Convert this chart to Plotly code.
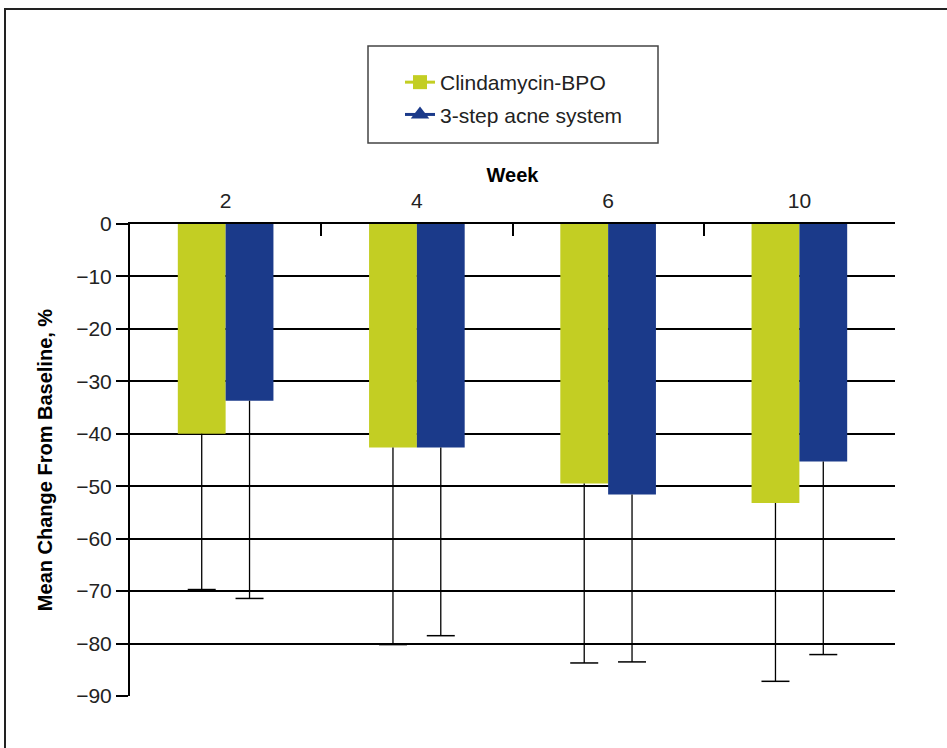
import plotly.graph_objects as go

weeks = ["2", "4", "6", "10"]
clinda_mean = [-40.0, -42.6, -49.5, -53.2]
clinda_sd = [29.7, 37.6, 34.2, 34.0]
acne_mean = [-33.7, -42.6, -51.6, -45.3]
acne_sd = [37.7, 35.9, 31.9, 36.8]
y_ticks = [0, -10, -20, -30, -40, -50, -60, -70, -80, -90]

GREEN = "#C3CE23"
BLUE = "#1B3A8A"
FONT = "Liberation Sans, Arial, Helvetica, sans-serif"

idx = list(range(len(weeks)))
bw = 0.25

fig = go.Figure()
fig.add_trace(go.Bar(x=idx, y=clinda_mean, width=bw, offset=-bw, marker=dict(color=GREEN, line=dict(width=0)),
                     showlegend=False, hoverinfo="skip"))
fig.add_trace(go.Bar(x=idx, y=acne_mean, width=bw, offset=0, marker=dict(color=BLUE, line=dict(width=0)),
                     showlegend=False, hoverinfo="skip"))

# error whiskers (downward only) with caps at the lower end
for means, sds, shift in [(clinda_mean, clinda_sd, -bw / 2), (acne_mean, acne_sd, bw / 2)]:
    lows = [m - s for m, s in zip(means, sds)]
    fig.add_trace(go.Scatter(
        x=[i + shift for i in idx], y=lows, mode="markers",
        marker=dict(symbol="line-ew", size=20, color="black", line=dict(width=1.5, color="black")),
        error_y=dict(type="data", symmetric=False, array=sds, arrayminus=[0] * len(sds),
                     width=0, thickness=1.3, color="black"),
        showlegend=False, hoverinfo="skip", cliponaxis=False))

# legend entries
fig.add_trace(go.Scatter(x=[None], y=[None], mode="lines+markers", name="Clindamycin-BPO",
                         line=dict(color=GREEN, width=3), marker=dict(symbol="square", size=14, color=GREEN),
                         legendgroup="a"))
fig.add_trace(go.Scatter(x=[None], y=[None], mode="lines+markers", name="3-step acne system",
                         line=dict(color=BLUE, width=3), marker=dict(symbol="triangle-up", size=16, color=BLUE),
                         legendgroup="b"))
# trace to activate the boundary-tick axis
fig.add_trace(go.Scatter(x=[0], y=[None], xaxis="x2", showlegend=False, hoverinfo="skip"))

W, H = 947, 748
L, R, T, B = 130, 52, 224, 52
pw, ph = W - L - R, H - T - B

def px(x):
    return (x - L) / pw

def py(y):
    return (H - B - y) / ph

fig.update_layout(
    width=W, height=H,
    margin=dict(l=L, r=R, t=T, b=B),
    paper_bgcolor="white", plot_bgcolor="white",
    font=dict(family=FONT, size=21, color="#222"),
    barmode="overlay",
    xaxis=dict(range=[-0.5, 3.5], side="top", tickvals=idx, ticktext=weeks, ticks="outside", ticklen=6,
               tickcolor="rgba(0,0,0,0)",
               showline=True, linewidth=2, linecolor="black", showgrid=False, zeroline=False,
               tickfont=dict(size=21, color="#222"),
               title=dict(text="<b>Week</b>", font=dict(size=20, color="black"), standoff=1)),
    xaxis2=dict(range=[-0.5, 3.5], overlaying="x", side="top",
                tickvals=[i - 0.5 for i in idx] + [len(idx) - 0.5],
                ticks="inside", ticklen=12, tickwidth=2, tickcolor="black",
                showticklabels=False, showline=False, showgrid=False, zeroline=False),
    yaxis=dict(range=[-90, 0], tickvals=y_ticks, ticks="outside", ticklen=12, tickwidth=2, tickcolor="black",
               showline=True, linewidth=2, linecolor="black", showgrid=True, gridcolor="black", gridwidth=2,
               zeroline=False, tickfont=dict(size=21, color="#222"),
               title=dict(text="<b>Mean Change From Baseline, %</b>", font=dict(size=20, color="black"),
                          standoff=18)),
    legend=dict(x=px(400), y=py(62), xanchor="left", yanchor="top", bgcolor="rgba(0,0,0,0)",
                borderwidth=0, font=dict(size=21, color="#222"), tracegroupgap=2, traceorder="grouped"),
    shapes=[
        dict(type="rect", xref="paper", yref="paper", x0=px(368), x1=px(658), y0=py(143), y1=py(46),
             line=dict(color="#444", width=1.5)),
        dict(type="rect", xref="paper", yref="paper", x0=px(5), x1=px(990), y0=py(790), y1=py(9),
             line=dict(color="#222", width=2)),
    ],
)

fig.write_html("out.html", config={"displayModeBar": False},
               post_script="document.body.style.margin='0';document.body.style.padding='0';")
